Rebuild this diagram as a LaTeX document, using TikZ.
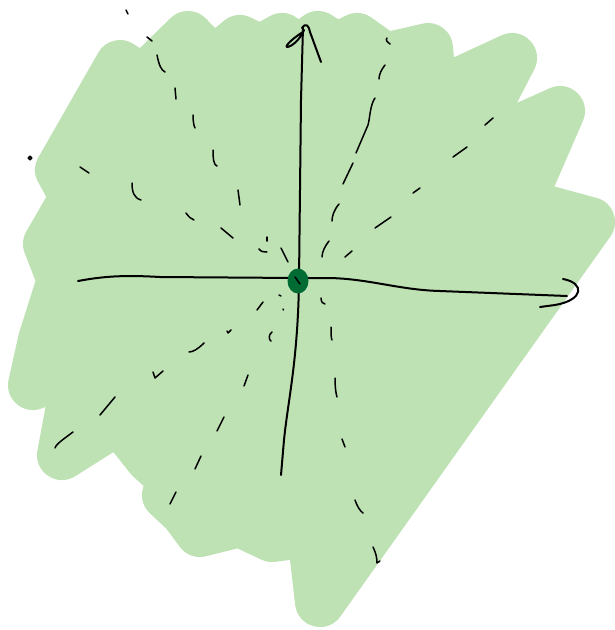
\documentclass[tikz,border=0pt]{standalone}
\definecolor{blobgreen}{RGB}{190,226,180}
\definecolor{dotgreen}{RGB}{0,108,52}
\tikzset{
  blob/.style={fill=blobgreen, draw=blobgreen, line width=50pt, line join=round},
  axisline/.style={draw=black, line width=2pt, line cap=round, line join=round},
  dashmark/.style={draw=black, line width=1.5pt, line cap=round, line join=round}
}
\begin{document}
\begin{tikzpicture}[x=1pt,y=-1pt]
\useasboundingbox (0,0) rectangle (614,630);
% green scribbled area
\path[blob] (120,65) -- (143,80) -- (188,36) -- (213,62) -- (240,40) -- (260,50) -- (282,38) -- (300,50) -- (318,36) -- (337,48) -- (357,38)
  -- (385,58) -- (428,48)
  -- (432,95) -- (512,58) -- (462,155) -- (560,111) -- (520,203) -- (590,222) -- (320,602) -- (312,532)
  -- (272,537) -- (240,522) -- (200,532) -- (185,512) -- (167,495) -- (172,478) -- (150,458) -- (119,419) -- (62,455) -- (79,364)
  -- (33,385) -- (43,340) -- (62,280) -- (48,244) -- (75,197) -- (60,170) -- cycle;
% axes
\draw[axisline] (78,281) .. controls (105,276) and (125,275) .. (160,277) -- (298,278) -- (330,278)
  .. controls (370,279) and (400,290) .. (440,291) -- (567,296);
\draw[axisline] (563,279) .. controls (585,283) and (584,300) .. (555,305) -- (540,307);
\draw[axisline] (303,27) -- (301,100) -- (299,280) .. controls (298,360) and (288,400) .. (284,440) -- (281,475);
\draw[axisline] (303,32) .. controls (296,36) and (284,46) .. (287,47) .. controls (291,47) and (300,40) .. (304,30);
\draw[axisline] (302,28) .. controls (306,22) and (309,26) .. (310,32) -- (321,62);
% origin dot
\fill[dotgreen] (298,281) ellipse [x radius=10.5pt, y radius=12.5pt];
\draw[dashmark] (295,277) -- (300,284);
% upper-left steep
\draw[dashmark] (126,10) -- (128,14);
\draw[dashmark] (147,37) -- (152,41);
\draw[dashmark] (157,55) .. controls (159,65) and (161,70) .. (165,72);
\draw[dashmark] (175,88) -- (176,99);
\draw[dashmark] (193,115) .. controls (193,122) and (194,126) .. (195,128);
\draw[dashmark] (213,150) .. controls (213,160) and (214,165) .. (217,166);
\draw[dashmark] (238,190) -- (240,205);
\draw[dashmark] (267,237) -- (267,241);
\draw[dashmark] (281,248) -- (288,262);
% upper-left shallow
\draw[dashmark] (30,158) circle [radius=1.8pt];
\draw[dashmark] (80,167) -- (89,173);
\draw[dashmark] (132,183) .. controls (132,192) and (134,198) .. (141,200);
\draw[dashmark] (186,213) .. controls (189,217) and (191,219) .. (194,220);
\draw[dashmark] (221,228) -- (233,238);
\draw[dashmark] (259,249) .. controls (261,252) and (264,252) .. (267,252);
% upper-right steep
\draw[dashmark] (387,38) .. controls (385,40) and (388,43) .. (390,44);
\draw[dashmark] (385,65) .. controls (381,70) and (379,75) .. (379,79);
\draw[dashmark] (375,98) .. controls (370,105) and (370,118) .. (368,125) -- (356,153);
\draw[dashmark] (353,163) -- (343,184);
\draw[dashmark] (339,204) .. controls (334,210) and (332,216) .. (332,221);
\draw[dashmark] (329,241) .. controls (325,246) and (322,252) .. (322,257);
% upper-right shallow
\draw[dashmark] (493,118) -- (485,125);
\draw[dashmark] (467,147) -- (453,157);
\draw[dashmark] (420,188) -- (413,193);
\draw[dashmark] (391,217) -- (375,228);
\draw[dashmark] (352,251) -- (345,257);
% lower-left shallow
\draw[dashmark] (73,432) .. controls (65,438) and (56,444) .. (55,448);
\draw[dashmark] (115,397) -- (100,415);
\draw[dashmark] (153,372) -- (155,378) -- (163,371);
\draw[dashmark] (204,343) .. controls (198,349) and (193,352) .. (189,352);
\draw[dashmark] (227,331) -- (228,333) -- (231,330);
\draw[dashmark] (263,302) -- (257,310);
\draw[dashmark] (279,295) -- (281,296);
% lower-left steep
\draw[dashmark] (283,309) -- (283.5,310);
\draw[dashmark] (272,332) .. controls (268,335) and (269,340) .. (271,341);
\draw[dashmark] (248,375) -- (244,386);
\draw[dashmark] (224,417) -- (217,431);
\draw[dashmark] (201,456) -- (195,469);
\draw[dashmark] (176,492) -- (170,504);
% lower-right steep
\draw[dashmark] (321,298) .. controls (321,302) and (323,304) .. (325,304);
\draw[dashmark] (331,327) .. controls (331,333) and (331,338) .. (332,340);
\draw[dashmark] (335,378) .. controls (335,387) and (336,394) .. (337,397);
\draw[dashmark] (342,439) -- (345,447);
\draw[dashmark] (355,500) .. controls (357,506) and (360,511) .. (363,513);
\draw[dashmark] (373,547) .. controls (376,553) and (377,558) .. (377,563) -- (380,561);
\end{tikzpicture}
\end{document}
